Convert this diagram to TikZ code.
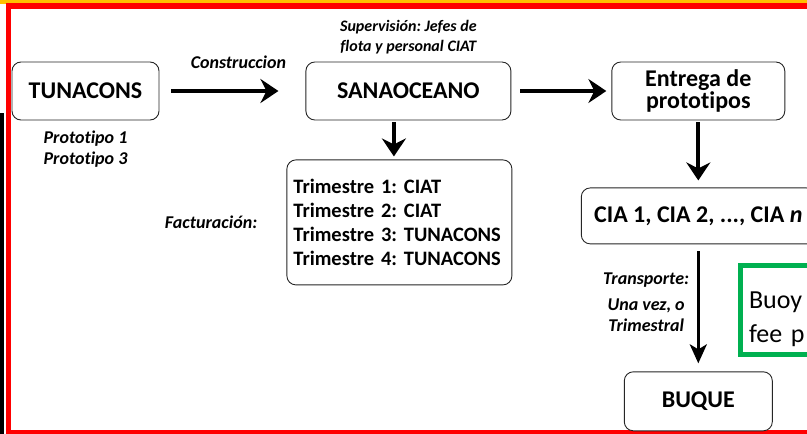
\documentclass[tikz,border=0pt]{standalone}
\usepackage{fontspec}
\setmainfont{Carlito}[Ligatures={NoCommon}, RawFeature={-liga;-dlig}]
\usepackage{tikz,xcolor}
\usetikzlibrary{arrows.meta, positioning}
\definecolor{framered}{RGB}{255,0,0}
\definecolor{topgold}{RGB}{255,192,0}
\definecolor{mygreen}{RGB}{0,176,80}
\frenchspacing

\begin{document}
\begin{tikzpicture}[x=1pt, y=-1pt,
		base/.style = {draw=black!85, line width=0.9pt, fill=white, rounded corners=9pt, align=center, font=\fontsize{24}{22}\selectfont\bfseries},
		block/.style = {rectangle, base, minimum height=58pt},
		note/.style = {inner sep=0pt, align=center, font=\fontsize{18}{21}\selectfont\bfseries\itshape},
		link/.style = {line width=4pt, -{Stealth[length=18pt, width=24pt, inset=6pt]}},
		thinlink/.style = {line width=3pt, -{Stealth[length=19pt, width=17pt, inset=5pt]}}
		]
		\useasboundingbox (0,0) rectangle (807,434);
		\clip (0,0) rectangle (807,434);
		\fill[topgold] (0,0) rectangle (807,3.5);
		\fill[black] (0,113) rectangle (4,434);
		\draw[framered, line width=5.5pt] (8.5,6) rectangle (830,432.5);
		
		\node (A) [block, minimum width=147pt] at (85.5,91) {TUNACONS};
		\node (B) [block, minimum width=205pt, right=146pt of A] {SANAOCEANO};
		\node (C) [block, minimum width=173pt, right=100pt of B] {Entrega de\\prototipos};
		\node (D) [base, text width=212pt, inner xsep=6.5pt, minimum height=125pt, align=left, font=\fontsize{20.5}{24.3}\selectfont\bfseries, below=39pt of B, xshift=-9pt] {Trimestre 1: CIAT\\Trimestre 2: CIAT\\Trimestre 3: TUNACONS\\Trimestre 4: TUNACONS};
		\node (E) [block, minimum width=234pt, minimum height=56pt, below=67pt of C] {CIA 1, CIA 2, ..., CIA \textit{n}};
		\node (F) [block, minimum width=148pt, minimum height=59pt, below=127pt of E] {BUQUE};
		\node (G) [draw=mygreen, line width=5pt, anchor=north west, text width=70pt, inner xsep=8.5pt, inner ysep=3pt, text height=39.5pt, text depth=43.5pt, align=left, font=\fontsize{26}{34}\selectfont] at (738,263) {Buoy\\fee p};
		
		\node (P) [note, below=10pt of A] {Prototipo 1\\Prototipo 3};
		\node (S) [note, font=\fontsize{16}{20}\selectfont\bfseries\itshape, above=7pt of B] {Supervisión: Jefes de\\flota y personal CIAT};
		\node (H) [note, left=29pt of D] {Facturación:};
		\node (T) [note, below left=28pt and 9pt of E.south] {Transporte:\\[5pt]Una vez, o\\Trimestral};
		
		\draw[link, shorten <=12pt, shorten >=27pt] (A.east) -- node (L) [note, above=20pt, xshift=6pt] {Construccion} (B.west);
		\draw[link, shorten <=9pt, shorten >=5pt] (B.east) -- (C.west);
		\draw[link, shorten <=2pt, shorten >=3pt] ([xshift=-14.5pt]B.south) -- ([xshift=-5.5pt]D.north);
		\draw[link, shorten <=2pt, shorten >=7pt] (C.south) -- (E.north);
		\draw[thinlink, shorten <=7pt, shorten >=8pt] (E.south) -- (F.north);
	\end{tikzpicture}
\end{document}
